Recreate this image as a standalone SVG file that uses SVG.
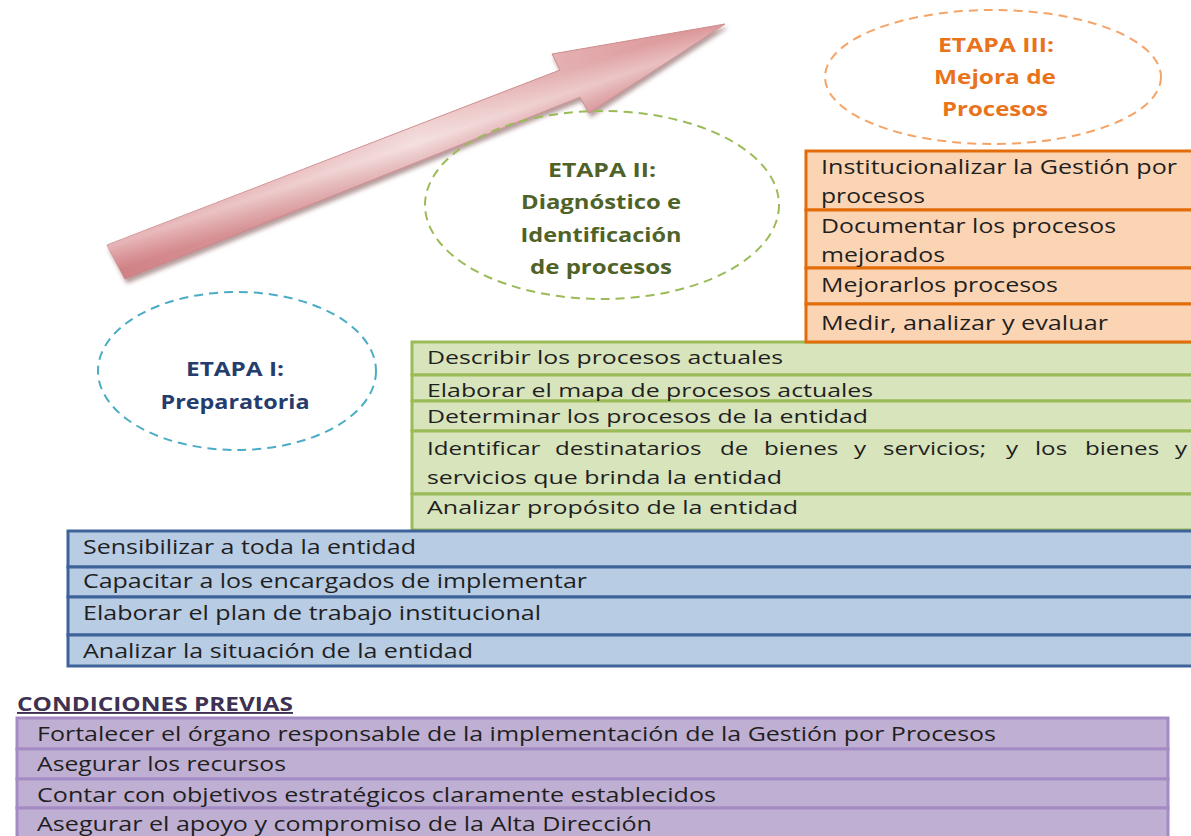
<svg xmlns="http://www.w3.org/2000/svg" width="1191" height="836" viewBox="0 0 1191 836">
<defs>
<linearGradient id="arrowLen" gradientUnits="userSpaceOnUse" x1="110" y1="260" x2="725" y2="30">
<stop offset="0" stop-color="#d88a8e"/>
<stop offset="0.5" stop-color="#efcfcf"/>
<stop offset="1" stop-color="#d98f92"/>
</linearGradient>
<linearGradient id="arrowAcross" gradientUnits="userSpaceOnUse" x1="330" y1="150" x2="345" y2="195">
<stop offset="0" stop-color="#ffffff" stop-opacity="0"/>
<stop offset="0.45" stop-color="#ffffff" stop-opacity="0.35"/>
<stop offset="1" stop-color="#c06a70" stop-opacity="0.3"/>
</linearGradient>
<filter id="shadow" x="-10%" y="-20%" width="120%" height="150%">
<feGaussianBlur in="SourceAlpha" stdDeviation="2"/>
<feOffset dx="2" dy="4" result="b"/>
<feFlood flood-color="#7a4a4a" flood-opacity="0.55"/>
<feComposite in2="b" operator="in"/>
<feMerge><feMergeNode/><feMergeNode in="SourceGraphic"/></feMerge>
</filter>
</defs>
<style>
text{font-family:"Open Sans","Liberation Sans",sans-serif;fill:#1f1f1f}
.t{font-size:20px}
.tg{font-size:19px}
.et{font-size:20px;font-weight:bold;text-anchor:middle}
.or{fill:#fbd4b4;stroke:#e36c0a;stroke-width:3}
.gr{fill:#d7e4bc;stroke:#9bbb59;stroke-width:3}
.bl{fill:#b8cce4;stroke:#3d6399;stroke-width:3}
.pu{fill:#bfb0d3;stroke:#a48bc4;stroke-width:3}
.el{fill:none;stroke-width:2;stroke-dasharray:9 6}
</style>

<g id="connectors">
<g id="arrow" filter="url(#shadow)">
<polygon points="107,245 560,70 552,54 725,24 589,113 580,97 125,279" fill="url(#arrowLen)" stroke="#cf8a8c" stroke-width="1"/>
<polygon points="107,245 560,70 552,54 725,24 589,113 580,97 125,279" fill="url(#arrowAcross)"/>
</g>
</g>

<g id="etapa1">
<ellipse class="el" cx="237" cy="371" rx="139" ry="79" stroke="#4bacc6"/>
<text class="et" x="235" y="376" style="fill:#243c6e" textLength="98" lengthAdjust="spacingAndGlyphs">ETAPA I:</text>
<text class="et" x="235" y="409" style="fill:#243c6e" textLength="149" lengthAdjust="spacingAndGlyphs">Preparatoria</text>
</g>

<g id="etapa2">
<ellipse class="el" cx="602" cy="205" rx="177" ry="94" stroke="#9bbb59"/>
<text class="et" x="602" y="177" style="fill:#4f6228" textLength="108" lengthAdjust="spacingAndGlyphs">ETAPA II:</text>
<text class="et" x="601" y="209" style="fill:#4f6228" textLength="160" lengthAdjust="spacingAndGlyphs">Diagnóstico e</text>
<text class="et" x="601" y="242" style="fill:#4f6228" textLength="161" lengthAdjust="spacingAndGlyphs">Identificación</text>
<text class="et" x="601" y="274" style="fill:#4f6228" textLength="142" lengthAdjust="spacingAndGlyphs">de procesos</text>
</g>

<g id="etapa3">
<ellipse class="el" cx="993" cy="77" rx="168" ry="67" stroke="#f5a468"/>
<text class="et" x="996" y="52" style="fill:#e9731a" textLength="116" lengthAdjust="spacingAndGlyphs">ETAPA III:</text>
<text class="et" x="995" y="84" style="fill:#e9731a" textLength="122" lengthAdjust="spacingAndGlyphs">Mejora de</text>
<text class="et" x="995" y="116" style="fill:#e9731a" textLength="106" lengthAdjust="spacingAndGlyphs">Procesos</text>
</g>

<g id="etapa2-actividades">
<rect class="gr" x="412" y="342" width="790" height="33"/>
<rect class="gr" x="412" y="375" width="790" height="26"/>
<rect class="gr" x="412" y="401" width="790" height="30"/>
<rect class="gr" x="412" y="431" width="790" height="63"/>
<rect class="gr" x="412" y="494" width="790" height="36"/>
<text class="tg" x="427" y="364" textLength="356" lengthAdjust="spacingAndGlyphs">Describir los procesos actuales</text>
<text class="tg" x="427" y="397" textLength="446" lengthAdjust="spacingAndGlyphs">Elaborar el mapa de procesos actuales</text>
<text class="tg" x="427" y="423" textLength="441" lengthAdjust="spacingAndGlyphs">Determinar los procesos de la entidad</text>
<text class="tg" y="455" transform="scale(1.27,1)"><tspan x="336.2">Identificar</tspan><tspan x="437">destinatarios</tspan><tspan x="566.9">de</tspan><tspan x="601.6">bienes</tspan><tspan x="672.4">y</tspan><tspan x="695.3">servicios;</tspan><tspan x="792.1">y</tspan><tspan x="815">los</tspan><tspan x="854.3">bienes</tspan><tspan x="925.2">y</tspan></text>
<text class="tg" x="427" y="484" textLength="355" lengthAdjust="spacingAndGlyphs">servicios que brinda la entidad</text>
<text class="tg" x="427" y="514" textLength="371" lengthAdjust="spacingAndGlyphs">Analizar propósito de la entidad</text>
</g>

<g id="etapa3-actividades">
<rect class="or" x="806" y="151" width="396" height="59"/>
<rect class="or" x="806" y="210" width="396" height="58"/>
<rect class="or" x="806" y="268" width="396" height="36"/>
<rect class="or" x="806" y="304" width="396" height="38"/>
<text class="t" x="821" y="174" textLength="356" lengthAdjust="spacingAndGlyphs">Institucionalizar la Gestión por</text>
<text class="t" x="821" y="203" textLength="104" lengthAdjust="spacingAndGlyphs">procesos</text>
<text class="t" x="821" y="233" textLength="295" lengthAdjust="spacingAndGlyphs">Documentar los procesos</text>
<text class="t" x="821" y="262" textLength="124" lengthAdjust="spacingAndGlyphs">mejorados</text>
<text class="t" x="821" y="292" textLength="237" lengthAdjust="spacingAndGlyphs">Mejorarlos procesos</text>
<text class="t" x="821" y="330" textLength="287" lengthAdjust="spacingAndGlyphs">Medir, analizar y evaluar</text>
</g>

<g id="etapa1-actividades">
<rect class="bl" x="68" y="531" width="1134" height="36"/>
<rect class="bl" x="68" y="567" width="1134" height="30"/>
<rect class="bl" x="68" y="597" width="1134" height="38"/>
<rect class="bl" x="68" y="635" width="1134" height="31"/>
<text class="t" x="83" y="554" textLength="333" lengthAdjust="spacingAndGlyphs">Sensibilizar a toda la entidad</text>
<text class="t" x="83" y="588" textLength="504" lengthAdjust="spacingAndGlyphs">Capacitar a los encargados de implementar</text>
<text class="t" x="83" y="620" textLength="458" lengthAdjust="spacingAndGlyphs">Elaborar el plan de trabajo institucional</text>
<text class="t" x="83" y="658" textLength="390" lengthAdjust="spacingAndGlyphs">Analizar la situación de la entidad</text>
</g>

<g id="condiciones-previas">
<text x="17" y="711" style="font-size:19px;font-weight:bold;fill:#3f3151;text-decoration:underline" textLength="276" lengthAdjust="spacingAndGlyphs">CONDICIONES PREVIAS</text>
<rect class="pu" x="17" y="718" width="1151" height="31"/>
<rect class="pu" x="17" y="749" width="1151" height="30"/>
<rect class="pu" x="17" y="779" width="1151" height="29"/>
<rect class="pu" x="17" y="808" width="1151" height="34"/>
<text class="t" x="37" y="741" textLength="959" lengthAdjust="spacingAndGlyphs">Fortalecer el órgano responsable de la implementación de la Gestión por Procesos</text>
<text class="t" x="37" y="771" textLength="249" lengthAdjust="spacingAndGlyphs">Asegurar los recursos</text>
<text class="t" x="37" y="802" textLength="679" lengthAdjust="spacingAndGlyphs">Contar con objetivos estratégicos claramente establecidos</text>
<text class="t" x="37" y="831" textLength="615" lengthAdjust="spacingAndGlyphs">Asegurar el apoyo y compromiso de la Alta Dirección</text>
</g>
</svg>
